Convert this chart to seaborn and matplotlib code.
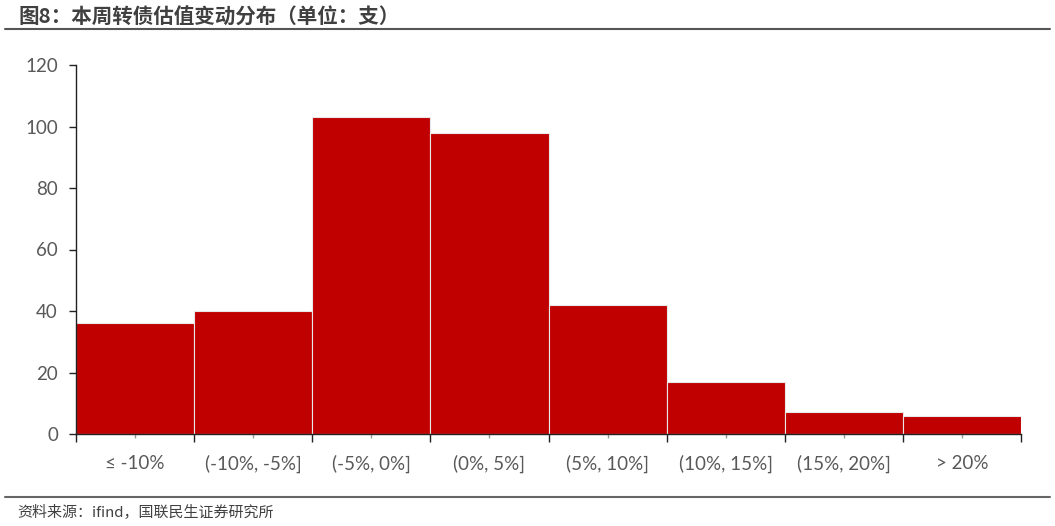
import matplotlib
matplotlib.use("Agg")
import matplotlib.pyplot as plt
import seaborn as sns
import pandas as pd
import numpy as np

categories = ["≤ -10%", "(-10%, -5%]", "(-5%, 0%]", "(0%, 5%]", "(5%, 10%]", "(10%, 15%]", "(15%, 20%]", "> 20%"]
counts = [36, 40, 103, 98, 42, 17, 7, 6]
yticks = [0, 20, 40, 60, 80, 100, 120]

title = "图8：本周转债估值变动分布（单位：支）"
source = "资料来源：ifind，国联民生证券研究所"

sns.set_style("white")
plt.rcParams['font.family'] = ['Noto Sans CJK SC', 'DejaVu Sans']

df = pd.DataFrame({"cat": categories, "n": counts})

fig = plt.figure(figsize=(10.55, 5.26), dpi=100)
ax = fig.add_axes([76/1055, 1-434/526, (1021-76)/1055, (434-65)/526])

sns.barplot(data=df, x="cat", y="n", order=categories, color="#C00000", width=1.0,
            edgecolor="#e8e8e8", linewidth=0.8, saturation=1, ax=ax)

ax.set_xlim(-0.5, len(categories) - 0.5)
ax.set_ylim(0, 120)
ax.set_yticks(yticks)
ax.set_xlabel("")
ax.set_ylabel("")

for s in ["top", "right"]:
    ax.spines[s].set_visible(False)
for s in ["left", "bottom"]:
    ax.spines[s].set_color("#222222")
    ax.spines[s].set_linewidth(1.0)

tick_font = ['Lato', 'DejaVu Sans']
ax.tick_params(axis="y", left=True, length=5, width=1, color="#222222", labelsize=13.5,
               labelcolor="#595959", pad=8)
ax.set_xticks(np.arange(len(categories)))
ax.set_xticklabels(categories)
ax.set_xticks(np.arange(len(categories) + 1) - 0.5, minor=True)
ax.tick_params(axis="x", which="major", bottom=True, length=3, width=1, color="#999999",
               labelsize=13.5, labelcolor="#595959", pad=12)
ax.tick_params(axis="x", which="minor", bottom=True, length=6, width=1, color="#222222")
for lab in ax.get_xticklabels() + ax.get_yticklabels():
    lab.set_family(tick_font)

fig.text(18/1055, 1-17/526, title, fontsize=14.8, fontweight="bold", color="#404040",
         va="center", ha="left")
fig.add_artist(plt.Line2D([5/1055, 1050/1055], [1-29/526, 1-29/526], color="#555555", lw=1.5))
fig.add_artist(plt.Line2D([5/1055, 1050/1055], [1-497/526, 1-497/526], color="#666666", lw=1.5))
fig.text(17/1055, 1-513/526, source, fontsize=10.8, color="#404040", va="center", ha="left")

fig.savefig("out.png", dpi=100)
